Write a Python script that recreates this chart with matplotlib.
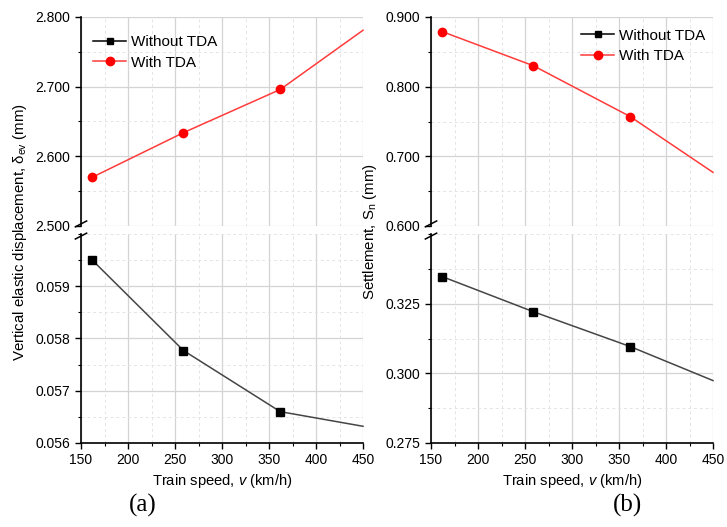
import matplotlib
matplotlib.use('Agg')
import matplotlib.pyplot as plt
from matplotlib.ticker import MultipleLocator, FormatStrFormatter
from matplotlib.lines import Line2D

plt.rcParams['font.family'] = ['Liberation Sans', 'DejaVu Sans']
plt.rcParams['mathtext.fontset'] = 'custom'
plt.rcParams['mathtext.rm'] = 'Liberation Sans'
plt.rcParams['mathtext.it'] = 'Liberation Sans:italic'

# train speed (km/h); last value is where the line leaves the plot
speed = [162, 259, 362, 450]

# (a) vertical elastic displacement (mm)
disp_without = [0.0595, 0.05777, 0.0566, 0.05632]
disp_with = [2.570, 2.634, 2.696, 2.781]

# (b) settlement (mm)
settle_without = [0.3347, 0.3221, 0.3096, 0.2974]
settle_with = [0.879, 0.830, 0.757, 0.677]

W, H = 727, 527
fig = plt.figure(figsize=(W / 100, H / 100), dpi=100)

black_line = '#454545'
red_line = '#ff3b3b'


def px_axes(x0, y0, x1, y1):
    # pixel box (top-left origin) -> figure fraction
    return fig.add_axes([x0 / W, 1 - y1 / H, (x1 - x0) / W, (y1 - y0) / H])


def style(ax, ylim, major, minor, fmt):
    ax.set_xlim(150, 450)
    ax.set_ylim(*ylim)
    ax.xaxis.set_major_locator(MultipleLocator(50))
    ax.xaxis.set_minor_locator(MultipleLocator(25))
    ax.yaxis.set_major_locator(MultipleLocator(major))
    ax.yaxis.set_minor_locator(MultipleLocator(minor))
    ax.yaxis.set_major_formatter(FormatStrFormatter(fmt))
    ax.spines['top'].set_visible(False)
    ax.spines['right'].set_visible(False)
    ax.spines['left'].set_linewidth(1.2)
    ax.spines['bottom'].set_linewidth(1.2)
    ax.grid(which='major', color='#d4d4d4', lw=0.9)
    ax.grid(which='minor', color='#e4e4e4', lw=0.7, ls=(0, (3, 3)))
    ax.tick_params(which='major', direction='out', length=4, width=1, labelsize=10)
    ax.tick_params(which='minor', direction='out', length=2.5, width=0.8)
    ax.set_axisbelow(True)


def broken_panel(x0, x1, up_lim, lo_lim, lo_major, lo_minor, lo_ticks,
                 y_without, y_with, ylabel, leg_loc, leg_anchor, tag_x):
    up = px_axes(x0, 17, x1, 226)
    lo = px_axes(x0, 234, x1, 443)
    style(up, up_lim, 0.1, 0.05, '%.3f')
    style(lo, lo_lim, lo_major, lo_minor, '%.3f')
    lo.set_yticks(lo_ticks)
    up.spines['bottom'].set_visible(False)
    up.tick_params(axis='x', which='both', bottom=False, labelbottom=False)

    up.plot(speed, y_with, color=red_line, lw=1.1, marker='o', ms=6,
            mfc='red', mec='red', markevery=[0, 1, 2], clip_on=False)
    lo.plot(speed, y_without, color=black_line, lw=1.1, marker='s', ms=5.5,
            mfc='black', mec='black', markevery=[0, 1, 2], clip_on=False)

    # break marks on the left spine
    kw = dict(color='black', lw=1.1, clip_on=False)
    up.plot([-0.02, 0.02], [-0.004, 0.024], transform=up.transAxes, **kw)
    lo.plot([-0.02, 0.02], [0.976, 1.004], transform=lo.transAxes, **kw)

    handles = [
        Line2D([], [], color='black', lw=1.1, marker='s', ms=5, mfc='black'),
        Line2D([], [], color=red_line, lw=1.1, marker='o', ms=6, mfc='red', mec='red'),
    ]
    up.legend(handles, ['Without TDA', 'With TDA'], loc=leg_loc,
              bbox_to_anchor=leg_anchor, frameon=False, fontsize=11,
              handlelength=2.2, handletextpad=0.3, borderaxespad=0,
              labelspacing=0.4)

    lo.set_xlabel('Train speed, $\\mathit{v}$ (km/h)', fontsize=10.6, labelpad=3)
    fig.text((x0 - 61) / W, 1 - 232 / H, ylabel, rotation=90, ha='center',
             va='center', fontsize=10.8)
    fig.text(tag_x / W, 1 - 505 / H, tag, family='Liberation Serif',
             fontsize=18, ha='center', va='center')
    return up, lo


tag = '(a)'
broken_panel(81, 363, (2.5, 2.8), (0.056, 0.060), 0.001, 0.0005,
             [0.056, 0.057, 0.058, 0.059], disp_without, disp_with,
             'Vertical elastic displacement, $\\mathrm{δ_{ev}}$ (mm)',
             'upper left', (0.020, 0.941), 143)
tag = '(b)'
broken_panel(431, 713, (0.6, 0.9), (0.275, 0.350), 0.025, 0.0125,
             [0.275, 0.300, 0.325], settle_without, settle_with,
             'Settlement, $\\mathrm{S_n}$ (mm)',
             'upper right', (0.994, 0.973), 627)

fig.savefig('out.png', dpi=100)
